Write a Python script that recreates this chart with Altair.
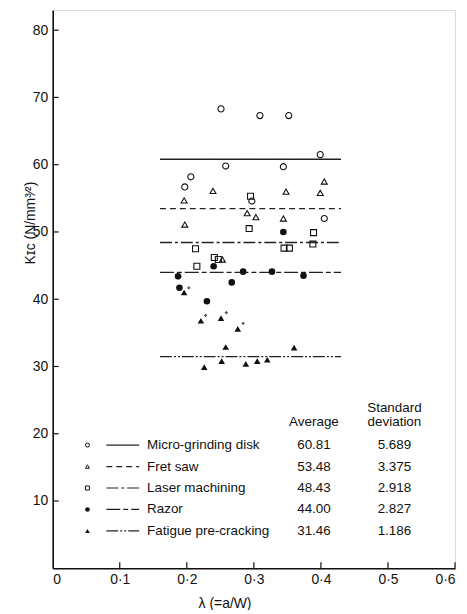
import altair as alt
import pandas as pd

# ---------------- data ----------------
series = ["Micro-grinding disk", "Fret saw", "Laser machining", "Razor", "Fatigue pre-cracking"]
averages = [60.81, 53.48, 48.43, 44.00, 31.46]
avg_text = ["60.81", "53.48", "48.43", "44.00", "31.46"]
sd_text = ["5.689", "3.375", "2.918", "2.827", "1.186"]
line_from = [0.16, 0.16, 0.16, 0.16, 0.16]
line_to = [0.43, 0.43, 0.43, 0.43, 0.43]

micro_x = [0.251, 0.309, 0.352, 0.399, 0.258, 0.344, 0.206, 0.197, 0.297, 0.405]
micro_y = [68.3, 67.3, 67.3, 61.5, 59.8, 59.7, 58.2, 56.7, 54.6, 52.0]

fret_x = [0.405, 0.239, 0.348, 0.399, 0.196, 0.290, 0.303, 0.344, 0.197, 0.253]
fret_y = [57.5, 56.1, 56.0, 55.8, 54.7, 52.8, 52.2, 52.0, 51.1, 45.9]

laser_x = [0.295, 0.293, 0.389, 0.213, 0.345, 0.353, 0.388, 0.241, 0.247, 0.215]
laser_y = [55.3, 50.5, 49.9, 47.5, 47.6, 47.6, 48.2, 46.2, 45.9, 44.9]

razor_x = [0.344, 0.240, 0.284, 0.327, 0.187, 0.374, 0.189, 0.267, 0.230]
razor_y = [50.0, 44.9, 44.1, 44.1, 43.4, 43.5, 41.7, 42.5, 39.7]

fatigue_x = [0.196, 0.221, 0.251, 0.276, 0.258, 0.360, 0.226, 0.252, 0.288, 0.305, 0.320]
fatigue_y = [41.0, 36.8, 37.2, 35.6, 32.9, 32.8, 29.9, 30.8, 30.4, 30.8, 31.0]

plus_x = [0.203, 0.228, 0.259, 0.284]
plus_y = [41.7, 37.6, 38.0, 36.4]

x_ticks = [0.1, 0.2, 0.3, 0.4, 0.5, 0.6]
y_ticks = [10, 20, 30, 40, 50, 60, 70, 80]

shapes = ["circle", "triangle-up", "square", "circle", "triangle-up"]
filled = [False, False, False, True, True]
sizes = [38, 36, 36, 44, 44]
dashes = [[1, 0], [6, 4], [12, 3, 3, 3], [14, 3, 5, 3], [12, 2, 2, 2, 2, 2]]

# ---------------- layout ----------------
W, H = 405, 562
FONT = "Liberation Sans"
INK = "#111111"

xs = alt.Scale(domain=[0, 0.6], nice=False, zero=False)
ys = alt.Scale(domain=[0, 83], nice=False, zero=False)

pts_list = [(micro_x, micro_y), (fret_x, fret_y), (laser_x, laser_y),
            (razor_x, razor_y), (fatigue_x, fatigue_y)]

x_axis = alt.Axis(
    values=x_ticks + [0], tickSize=0, labelPadding=4, labelFontSize=14,
    labelColor=INK, labelFont=FONT, grid=False, domainColor=INK, domainWidth=1.6,
    labelExpr="datum.value == 0 ? '0' : replace(format(datum.value, '.1f'), '.', '\u00b7')",
    title="\u03bb (=a/W)", titleFont=FONT, titleFontSize=14, titleFontWeight="normal",
    titleColor=INK, titleX=173, titleY=35, titleBaseline="middle",
)
y_axis = alt.Axis(
    values=y_ticks, tickSize=0, labelPadding=5, labelFontSize=14,
    labelColor=INK, labelFont=FONT, grid=False, domainColor=INK, domainWidth=1.6,
    title="K\u026a\u1d04   (N/mm\u00b3\u2044\u00b2)", titleFont=FONT, titleFontSize=14,
    titleFontWeight="normal", titleColor=INK, titleX=-22, titleY=214,
    titleAngle=270, titleAlign="center", titleBaseline="middle",
)

layers = []

# average lines
avg_df = pd.DataFrame({"series": series, "avg": averages, "x0": line_from, "x1": line_to})
layers.append(
    alt.Chart(avg_df).mark_rule(color="#222222", strokeWidth=1.3).encode(
        x=alt.X("x0:Q", scale=xs, axis=x_axis),
        x2="x1:Q",
        y=alt.Y("avg:Q", scale=ys, axis=y_axis),
        strokeDash=alt.StrokeDash("series:N", scale=alt.Scale(domain=series, range=dashes), legend=None),
    )
)

# data points
for i, (px, py) in enumerate(pts_list):
    df = pd.DataFrame({"lam": px, "k": py})
    layers.append(
        alt.Chart(df).mark_point(
            shape=shapes[i], filled=filled[i], size=sizes[i], color=INK,
            strokeWidth=1.1, opacity=1,
        ).encode(x=alt.X("lam:Q", scale=xs), y=alt.Y("k:Q", scale=ys))
    )

# small crosses next to some fatigue points
plus_df = pd.DataFrame({"lam": plus_x, "k": plus_y})
layers.append(
    alt.Chart(plus_df).mark_point(shape="cross", filled=True, size=10, color=INK).encode(
        x=alt.X("lam:Q", scale=xs), y=alt.Y("k:Q", scale=ys)
    )
)

# inward ticks
xt_df = pd.DataFrame({"t": x_ticks})
layers.append(
    alt.Chart(xt_df).mark_rule(color=INK, strokeWidth=1.2).encode(
        x=alt.X("t:Q", scale=xs), y=alt.value(H), y2=alt.value(H - 6)
    )
)
yt_df = pd.DataFrame({"t": y_ticks})
layers.append(
    alt.Chart(yt_df).mark_rule(color=INK, strokeWidth=1.2).encode(
        y=alt.Y("t:Q", scale=ys), x=alt.value(0), x2=alt.value(6)
    )
)

# ---------------- custom legend ----------------
row0, step = 438, 21.6
mk_x, ln_x0, ln_x1, lab_x, avg_x, sd_x = 35, 54, 87, 95, 263, 344
for i, name in enumerate(series):
    yy = row0 + i * step
    one = pd.DataFrame({"name": [name], "avg": [avg_text[i]], "sd": [sd_text[i]]})
    base = alt.Chart(one)
    layers.append(base.mark_point(shape=shapes[i], filled=filled[i], size=16 if not filled[i] else 22,
                                  color=INK, strokeWidth=1, opacity=1)
                  .encode(x=alt.value(mk_x), y=alt.value(yy)))
    layers.append(base.mark_rule(color="#222222", strokeWidth=1.2, strokeDash=dashes[i])
                  .encode(x=alt.value(ln_x0), x2=alt.value(ln_x1), y=alt.value(yy)))
    layers.append(base.mark_text(align="left", baseline="middle", font=FONT, fontSize=13.5, color=INK)
                  .encode(x=alt.value(lab_x), y=alt.value(yy), text="name:N"))
    layers.append(base.mark_text(align="center", baseline="middle", font=FONT, fontSize=13.5, color=INK)
                  .encode(x=alt.value(avg_x), y=alt.value(yy), text="avg:N"))
    layers.append(base.mark_text(align="center", baseline="middle", font=FONT, fontSize=13.5, color=INK)
                  .encode(x=alt.value(sd_x), y=alt.value(yy), text="sd:N"))

hdr = pd.DataFrame({"h": ["Average", "Standard", "deviation"],
                    "px": [avg_x, sd_x, sd_x], "py": [415, 401, 415]})
for _, r in hdr.iterrows():
    layers.append(alt.Chart(pd.DataFrame({"h": [r["h"]]})).mark_text(
        align="center", baseline="middle", font=FONT, fontSize=13.5, color=INK
    ).encode(x=alt.value(float(r["px"])), y=alt.value(float(r["py"])), text="h:N"))

chart = alt.layer(*layers).properties(
    width=W, height=H,
    autosize=alt.AutoSizeParams(type="none"),
    padding={"left": 45, "top": 0, "right": 4, "bottom": 40},
).configure_view(stroke=INK, strokeWidth=1.6).configure(background="white")

chart.save("out.html", embed_options={"renderer": "svg", "actions": False})
